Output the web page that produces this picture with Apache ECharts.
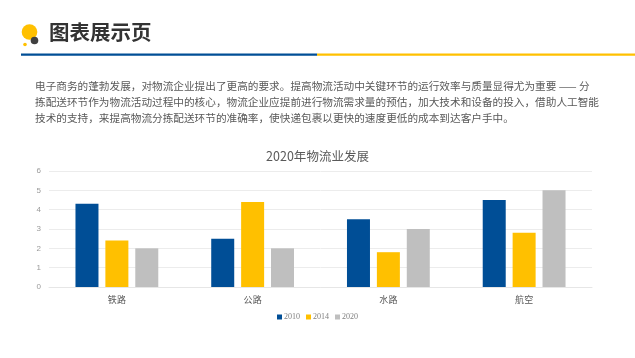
<!DOCTYPE html>
<html><head><meta charset="utf-8">
<script src="https://cdn.jsdelivr.net/npm/echarts@6/dist/echarts.min.js"></script>
<style>html,body{margin:0;padding:0;background:#fff}#c{width:635px;height:358px}</style>
</head><body><div id="c"></div>
<script>
const categories = ['铁路', '公路', '水路', '航空'];
const seriesNames = ['2010', '2014', '2020'];
const values2010 = [4.3, 2.5, 3.5, 4.5];
const values2014 = [2.4, 4.4, 1.8, 2.8];
const values2020 = [2.0, 2.0, 3.0, 5.0];
const colors = ['#004E96', '#FFC000', '#BFBFBF'];
const pageTitle = '图表展示页';
const chartTitle = '2020年物流业发展';
const paragraph = [
  '电子商务的蓬勃发展，对物流企业提出了更高的要求。提高物流活动中关键环节的运行效率与质量显得尤为重要 —— 分',
  '拣配送环节作为物流活动过程中的核心，物流企业应提前进行物流需求量的预估，加大技术和设备的投入，借助人工智能',
  '技术的支持，来提高物流分拣配送环节的准确率，使快递包裹以更快的速度更低的成本到达客户手中。'
];
const cjk = '"Noto Sans CJK SC","Noto Sans",sans-serif';
const chart = echarts.init(document.getElementById('c'));
const data = [values2010, values2014, values2020];
chart.setOption({
  animation: false,
  color: colors,
  title: { text: chartTitle, left: 'center', top: 145, textStyle: { fontFamily: cjk, fontSize: 12.5, fontWeight: 'normal', color: '#595959' } },
  legend: { bottom: 32, left: 'center', itemWidth: 5, itemHeight: 5, itemGap: 6, icon: 'rect',
    textStyle: { fontFamily: '"Liberation Serif",serif', fontSize: 8, color: '#7f7f7f', padding: [0, 0, 0, -3] }, data: seriesNames },
  grid: { left: 49, right: 43, top: 171, bottom: 71 },
  xAxis: { type: 'category', data: categories,
    axisLine: { lineStyle: { color: '#e6e6e6' } }, axisTick: { show: false },
    axisLabel: { fontFamily: cjk, fontSize: 9, color: '#595959', margin: 8 } },
  yAxis: { type: 'value', min: 0, max: 6, interval: 1,
    axisLine: { show: false }, axisTick: { show: false },
    splitLine: { lineStyle: { color: '#ececec' } },
    axisLabel: { fontFamily: '"Liberation Sans",sans-serif', fontSize: 8, color: '#9a9a9a', margin: 8 } },
  series: seriesNames.map((n, i) => ({ name: n, type: 'bar', data: data[i], barWidth: 23, barGap: '30%' })),
  graphic: [
    { type: 'circle', shape: { cx: 29.5, cy: 32, r: 7.8 }, style: { fill: '#FFC000' } },
    { type: 'circle', shape: { cx: 34.5, cy: 40.5, r: 3.8 }, style: { fill: '#404040' } },
    { type: 'circle', shape: { cx: 25, cy: 44.5, r: 1.8 }, style: { fill: '#FFC000' } },
    { type: 'text', left: 49, top: 22, style: { text: pageTitle, font: 'bold 20.5px ' + cjk, fill: '#333333' } },
    { type: 'rect', shape: { x: 21, y: 53.5, width: 296, height: 2.2 }, style: { fill: '#004E96' } },
    { type: 'rect', shape: { x: 317, y: 53.5, width: 318, height: 2.2 }, style: { fill: '#FFC000' } },
    ...paragraph.map((t, i) => ({ type: 'text', left: 35, top: 81 + i * 16, style: { text: t, font: '10.65px ' + cjk, fill: '#595959' } }))
  ]
});
</script></body></html>
